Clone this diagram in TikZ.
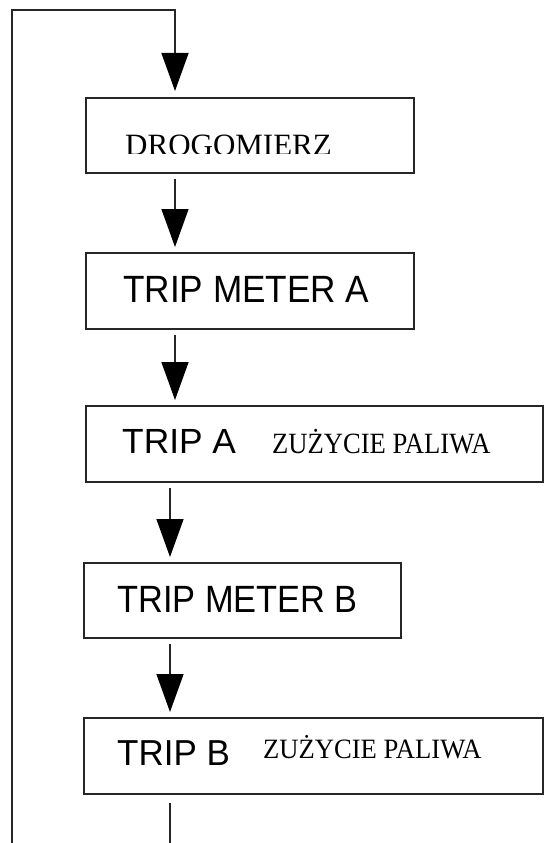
\documentclass[tikz,border=0pt]{standalone}
\usepackage{fontspec}
\setmainfont{Liberation Serif}
\newfontfamily\arialf{Liberation Sans}
\usetikzlibrary{arrows.meta}
\begin{document}
\begin{tikzpicture}[x=1pt,y=-1pt,
  boxnode/.style={draw=black!85, line width=2pt, anchor=north west, inner sep=0pt},
  conn/.style={draw=black!85, line width=1.4pt},
  tip/.style={-{Triangle[width=27pt,length=38pt,color=black]}},
  arr/.style={conn, tip, shorten >=5pt, shorten <=5pt},
  sanstext/.style={anchor=base west, inner sep=0pt, font=\arialf\fontsize{38}{38}\selectfont},
  seriftext/.style={anchor=base west, inner sep=0pt, font=\fontsize{28}{28}\selectfont}]
\useasboundingbox (0,0) rectangle (544,843);
% boxes
\node[boxnode, minimum width=328pt, minimum height=75pt] (b1) at (85,97) {};
\node[boxnode, minimum width=328pt, minimum height=76pt] (b2) at (85,252) {};
\node[boxnode, minimum width=457pt, minimum height=76pt] (b3) at (85,405) {};
\node[boxnode, minimum width=317pt, minimum height=75pt] (b4) at (83,562) {};
\node[boxnode, minimum width=459pt, minimum height=76pt] (b5) at (83,717) {};
% texts
\begin{scope}
\clip (100,120) rectangle (400,153);
\node[seriftext, font=\fontsize{31}{31}\selectfont] (t1) at (125,155) {DROGOMIERZ};
\end{scope}
\node[sanstext] (t2) at (123,302) {\scalebox{0.925}[1]{TRIP METER A}};
\node[sanstext] (t3) at (122,453) {\scalebox{0.93}[0.92]{TRIP A}};
\node[seriftext] (t3b) at (272,453) {\scalebox{0.95}[1.05]{ZUŻYCIE PALIWA}};
\node[sanstext] (t4) at (117,612) {\scalebox{0.905}[1]{TRIP METER B}};
\node[sanstext] (t5) at (117,765) {\scalebox{0.92}[0.95]{TRIP B}};
\node[seriftext] (t5b) at (263,758) {\scalebox{0.95}[1]{ZUŻYCIE PALIWA}};
% guide coordinates
\coordinate (xa) at (175,0);
\coordinate (xb) at (170,0);
\coordinate (bl) at (12,843);
\coordinate (tl) at (12,10);
\coordinate (tr) at (175,10);
\coordinate (bb) at (170,843);
% connectors
\draw[conn, tip, shorten >=6pt] (bl) -- (tl) -- (tr) -- (b1.north -| tr);
\draw[arr] (b1.south -| xa) -- (b2.north -| xa);
\draw[arr] (b2.south -| xa) -- (b3.north -| xa);
\draw[arr] (b3.south -| xb) -- (b4.north -| xb);
\draw[arr] (b4.south -| xb) -- (b5.north -| xb);
\draw[conn, shorten <=8pt] (b5.south -| xb) -- (bb);
\end{tikzpicture}
\end{document}
